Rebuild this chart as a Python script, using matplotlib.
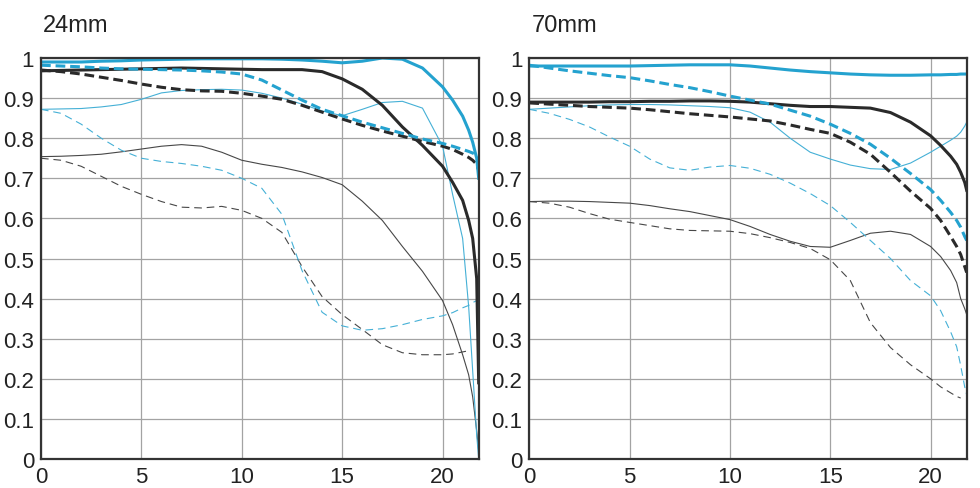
import numpy as np
import matplotlib.pyplot as plt

plt.rcParams['font.family'] = ['Liberation Sans', 'DejaVu Sans']
plt.rcParams['lines.scale_dashes'] = False

# image height positions (mm) shared by all curves
xpos = [0, 1, 2, 3, 4, 5, 6, 7, 8, 9, 10, 11, 12, 13, 14, 15, 16, 17, 18, 19, 20,
        20.5, 21, 21.3, 21.5, 21.7, 21.8]
nan = np.nan

# ---- 24mm ----
w_s10 = [0.99, 0.99, 0.99, 0.992, 0.993, 0.995, 0.996, 0.997, 0.998, 0.998, 0.998, 0.998, 0.997, 0.995,
         0.992, 0.988, 0.992, 1.0, 0.997, 0.975, 0.928, 0.895, 0.855, 0.82, 0.79, 0.75, 0.70]
w_m10 = [0.982, 0.98, 0.978, 0.975, 0.973, 0.972, 0.971, 0.97, 0.968, 0.965, 0.96, 0.945, 0.92, 0.895,
         0.872, 0.856, 0.84, 0.826, 0.812, 0.798, 0.787, 0.78, 0.772, 0.767, 0.763, 0.757, 0.75]
w_s10_w = [0.968, 0.969, 0.97, 0.971, 0.972, 0.973, 0.974, 0.975, 0.974, 0.973, 0.972, 0.971, 0.971, 0.971,
           0.966, 0.948, 0.922, 0.882, 0.828, 0.782, 0.73, 0.69, 0.645, 0.595, 0.55, 0.45, 0.19]
w_m10_w = [0.97, 0.966, 0.96, 0.952, 0.944, 0.935, 0.927, 0.921, 0.918, 0.917, 0.912, 0.905, 0.897, 0.882,
           0.865, 0.848, 0.832, 0.818, 0.805, 0.792, 0.78, 0.772, 0.76, 0.752, 0.745, 0.735, 0.72]
w_s30 = [0.872, 0.873, 0.874, 0.878, 0.884, 0.897, 0.913, 0.919, 0.921, 0.922, 0.92, 0.912, 0.9, 0.885,
         0.868, 0.856, 0.872, 0.889, 0.892, 0.875, 0.78, 0.66, 0.55, 0.38, 0.22, 0.06, 0.0]
w_m30 = [0.872, 0.862, 0.835, 0.80, 0.77, 0.75, 0.742, 0.737, 0.73, 0.72, 0.70, 0.675, 0.61, 0.47,
         0.366, 0.332, 0.321, 0.325, 0.335, 0.348, 0.357, 0.365, 0.377, 0.383, 0.39, 0.395, 0.40]
w_s30_w = [0.754, 0.755, 0.757, 0.76, 0.766, 0.773, 0.78, 0.784, 0.78, 0.765, 0.745, 0.735, 0.727, 0.716,
           0.702, 0.684, 0.643, 0.595, 0.53, 0.468, 0.395, 0.335, 0.26, 0.21, 0.155, 0.07, 0.02]
w_m30_w = [0.75, 0.745, 0.73, 0.705, 0.68, 0.66, 0.642, 0.628, 0.626, 0.63, 0.62, 0.60, 0.565, 0.48,
           0.405, 0.36, 0.323, 0.285, 0.265, 0.26, 0.26, 0.262, 0.267, 0.27, nan, nan, nan]

# ---- 70mm ----
t_s10 = [0.98, 0.98, 0.98, 0.98, 0.98, 0.98, 0.981, 0.982, 0.983, 0.983, 0.983, 0.98, 0.975, 0.97,
         0.966, 0.963, 0.96, 0.958, 0.957, 0.957, 0.958, 0.958, 0.959, 0.959, 0.96, 0.96, 0.96]
t_m10 = [0.982, 0.975, 0.968, 0.962, 0.956, 0.951, 0.943, 0.934, 0.926, 0.916, 0.905, 0.895, 0.885, 0.87,
         0.855, 0.835, 0.812, 0.785, 0.75, 0.712, 0.672, 0.645, 0.615, 0.595, 0.578, 0.555, 0.545]
t_s10_w = [0.89, 0.89, 0.89, 0.89, 0.891, 0.891, 0.892, 0.892, 0.893, 0.893, 0.892, 0.89, 0.886, 0.882,
           0.879, 0.879, 0.877, 0.875, 0.864, 0.84, 0.806, 0.782, 0.755, 0.735, 0.715, 0.69, 0.67]
t_m10_w = [0.888, 0.885, 0.882, 0.879, 0.877, 0.875, 0.871, 0.866, 0.861, 0.857, 0.853, 0.848, 0.843, 0.833,
           0.822, 0.812, 0.79, 0.76, 0.715, 0.668, 0.625, 0.595, 0.555, 0.53, 0.51, 0.48, 0.465]
t_s30 = [0.872, 0.875, 0.878, 0.881, 0.883, 0.884, 0.884, 0.883, 0.881, 0.879, 0.876, 0.865, 0.84, 0.80,
         0.765, 0.748, 0.733, 0.724, 0.722, 0.738, 0.765, 0.78, 0.795, 0.805, 0.815, 0.83, 0.84]
t_m30 = [0.872, 0.862, 0.847, 0.828, 0.803, 0.78, 0.748, 0.726, 0.72, 0.728, 0.732, 0.725, 0.71, 0.688,
         0.662, 0.632, 0.59, 0.545, 0.5, 0.445, 0.407, 0.37, 0.317, 0.28, 0.233, 0.18, 0.16]
t_s30_w = [0.642, 0.643, 0.643, 0.642, 0.64, 0.638, 0.632, 0.624, 0.617, 0.607, 0.597, 0.58, 0.56, 0.543,
           0.53, 0.528, 0.545, 0.563, 0.568, 0.56, 0.53, 0.505, 0.47, 0.44, 0.40, 0.375, 0.36]
t_m30_w = [0.642, 0.638, 0.628, 0.612, 0.598, 0.59, 0.582, 0.574, 0.57, 0.569, 0.568, 0.562, 0.552, 0.54,
           0.525, 0.497, 0.445, 0.34, 0.278, 0.235, 0.2, 0.18, 0.165, 0.156, 0.152, nan, nan]

titles = ["24mm", "70mm"]
xticks = [0, 5, 10, 15, 20]
yticks = [0, 0.1, 0.2, 0.3, 0.4, 0.5, 0.6, 0.7, 0.8, 0.9, 1]
ylabels = ["0", "0.1", "0.2", "0.3", "0.4", "0.5", "0.6", "0.7", "0.8", "0.9", "1"]

blue = '#24a2cf'
blue_thin = '#45b0d6'
black = '#2a2a2a'
black_thin = '#474747'

fig = plt.figure(figsize=(9.8, 4.89), dpi=100)
ax1 = fig.add_axes([41/980, 29/489, 437.7/980, 401/489])
ax2 = fig.add_axes([529.3/980, 29/489, 437.4/980, 401/489])

panels = [
    (ax1, [w_s10, w_m10, w_s10_w, w_m10_w, w_s30, w_m30, w_s30_w, w_m30_w]),
    (ax2, [t_s10, t_m10, t_s10_w, t_m10_w, t_s30, t_m30, t_s30_w, t_m30_w]),
]

for i, (ax, curves) in enumerate(panels):
    s10, m10, s10w, m10w, s30, m30, s30w, m30w = curves
    # thin 30 lp/mm lines first
    ax.plot(xpos, s30w, color=black_thin, lw=0.8)
    ax.plot(xpos, m30w, color=black_thin, lw=0.8, dashes=(5.5, 3.5))
    ax.plot(xpos, s30, color=blue_thin, lw=0.8)
    ax.plot(xpos, m30, color=blue_thin, lw=0.8, dashes=(5.5, 3.5))
    # thick 10 lp/mm lines
    ax.plot(xpos, s10w, color=black, lw=2.2)
    ax.plot(xpos, m10w, color=black, lw=2.2, dashes=(7, 3.5))
    ax.plot(xpos, s10, color=blue, lw=2.2)
    ax.plot(xpos, m10, color=blue, lw=2.2, dashes=(7, 3.5))

    ax.set_xlim(0, 21.8)
    ax.set_ylim(0, 1)
    ax.set_xticks(xticks)
    ax.set_yticks(yticks)
    ax.set_yticklabels(ylabels)
    ax.tick_params(length=0, labelsize=16, colors='#222222', pad=5)
    ax.grid(True, color='#a3a3a3', lw=0.9)
    ax.set_axisbelow(True)
    for sp in ax.spines.values():
        sp.set_linewidth(1.6)
        sp.set_color('#333333')
    pos = ax.get_position()
    fig.text(pos.x0 + 2/980, 1 - 32/489, titles[i], fontsize=17, color='#222222', va='baseline')

fig.savefig("out.png", dpi=100)
